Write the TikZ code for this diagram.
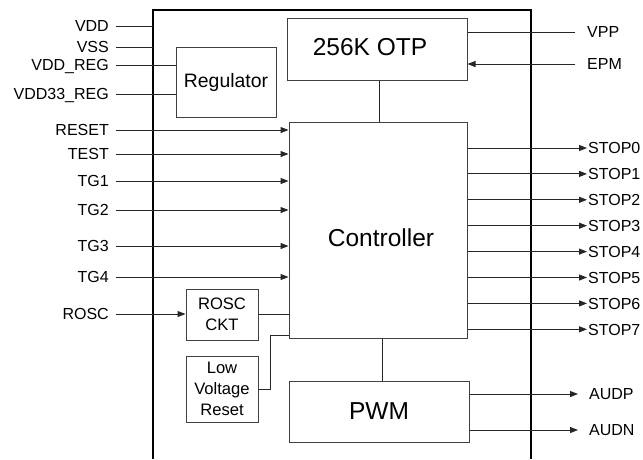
\documentclass[tikz,border=0pt]{standalone}
\usepackage{fontspec}
\setmainfont{Liberation Sans}
\usetikzlibrary{arrows.meta,calc}
\begin{document}
\begin{tikzpicture}[x=1pt,y=-1pt,
 box/.style={draw=black!75,line width=1pt,inner sep=0pt,align=center},
 lbl/.style={font=\fontsize{16}{21}\selectfont, inner ysep=0pt, text height=11.5pt, text depth=0pt},
 ll/.style={lbl,anchor=east,inner xsep=7pt},
 rl/.style={lbl,anchor=west},
 wire/.style={line width=1pt,black!85},
 arr/.style={wire,-{Triangle[length=8pt,width=6pt]}},
 bigtxt/.style={font=\fontsize{24.5}{28}\selectfont},
 smalltxt/.style={font=\fontsize{16.6}{21}\selectfont}
]
\useasboundingbox[fill=white] (0,0) rectangle (643,459);

% blocks
\node[box,minimum width=180pt,minimum height=62pt] (otp) at (377,49) {};
\node[bigtxt] (otptxt) at (370,47) {256K OTP};
\node[box,minimum width=100pt,minimum height=70pt,font=\fontsize{19.4}{23}\selectfont] (reg) at (226,82) {Regulator};
\node[box,minimum width=178pt,minimum height=216pt] (ctrl) at (378,230) {};
\node[bigtxt] (ctrltxt) at (381,238) {Controller};
\node[box,minimum width=72pt,minimum height=51pt,smalltxt] (rosc) at (222,314.5) {ROSC\\CKT};
\node[box,minimum width=72pt,minimum height=66pt,smalltxt] (lvr) at (222,389) {Low\\Voltage\\Reset};
\node[box,minimum width=180pt,minimum height=61pt,bigtxt] (pwm) at (379,411.5) {PWM};

% outer chip outline (open at bottom)
\coordinate (obl) at (153,459);
\coordinate (otl) at (153,10);
\coordinate (otr) at (531,10);
\coordinate (obr) at (531,459);
\draw[line width=1.2pt] (obl) -- (otl) -- (otr) -- (obr);

% left labels
\node[ll] (vdd) at (116,26) {VDD};
\node[ll] (vss) at (116,47) {VSS};
\node[ll] (vddreg) at (116,65) {VDD\_REG};
\node[ll] (vdd33) at (116,94) {VDD33\_REG};
\node[ll] (reset) at (116,130) {RESET};
\node[ll] (test) at (116,154) {TEST};
\node[ll] (tg1) at (116,181) {TG1};
\node[ll] (tg2) at (116,210) {TG2};
\node[ll] (tg3) at (116,246) {TG3};
\node[ll] (tg4) at (116,277) {TG4};
\node[ll] (roscin) at (116,314) {ROSC};

\draw[wire] (vdd.east) -- (vdd.east -| otl);
\draw[wire] (vss.east) -- (vss.east -| otl);
\draw[wire] (vddreg.east) -- (vddreg.east -| reg.west);
\draw[wire] (vdd33.east) -- (vdd33.east -| reg.west);
\foreach \n in {reset,test,tg1,tg2,tg3,tg4}
  \draw[arr] (\n.east) -- (\n.east -| ctrl.west);
\draw[arr] (roscin.east) -- (roscin.east -| rosc.west);
\draw[wire] (rosc.east) -- (rosc.east -| ctrl.west);
\draw[wire] (lvr.east) -- ++(12,0) |- ([yshift=3pt]ctrl.south west);
\draw[wire] ([xshift=2pt]otp.south) -- ([xshift=2pt]otp.south |- ctrl.north);
\draw[wire] ([xshift=4pt]ctrl.south) -- ([xshift=4pt]ctrl.south |- pwm.north);

% right labels
\node[rl,inner xsep=12pt] (vpp) at (575,32) {VPP};
\node[rl,inner xsep=12pt] (epm) at (575,64) {EPM};
\draw[wire] (vpp.west -| otp.east) -- (vpp.west);
\draw[arr] (epm.west) -- (epm.west -| otp.east);

\foreach \i [evaluate=\i as \yy using {148+25.9*\i}] in {0,...,7} {
  \node[rl,inner xsep=1pt] (stop\i) at (587,\yy) {STOP\i};
  \draw[arr] (stop\i.west -| ctrl.east) -- (stop\i.west);
}

\node[rl,inner xsep=11pt] (audp) at (578,394) {AUDP};
\node[rl,inner xsep=11pt] (audn) at (578,430) {AUDN};
\draw[arr] (audp.west -| pwm.east) -- (audp.west);
\draw[arr] (audn.west -| pwm.east) -- (audn.west);
\end{tikzpicture}
\end{document}
